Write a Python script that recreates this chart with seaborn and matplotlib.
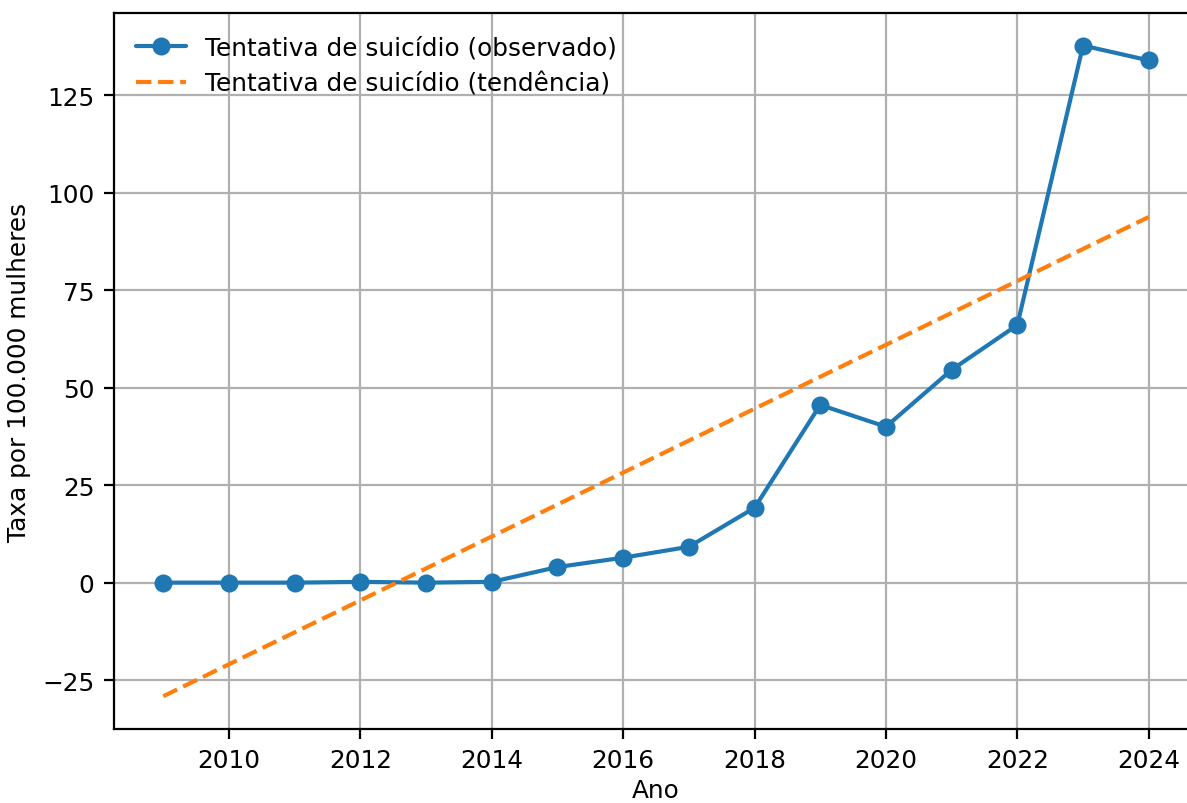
import numpy as np
import pandas as pd
import matplotlib
matplotlib.use("Agg")
import matplotlib.pyplot as plt
import seaborn as sns

anos = [2009, 2010, 2011, 2012, 2013, 2014, 2015, 2016, 2017, 2018, 2019, 2020, 2021, 2022, 2023, 2024]
taxa = [0.0, 0.0, 0.0, 0.2, 0.0, 0.2, 4.0, 6.4, 9.2, 19.2, 45.6, 40.0, 54.6, 66.1, 137.8, 134.0]

sns.set_style("ticks", {"axes.grid": True, "grid.color": "#b0b0b0", "axes.edgecolor": "black",
                        "text.color": "black", "axes.labelcolor": "black",
                        "xtick.color": "black", "ytick.color": "black"})
plt.rcParams["font.family"] = ["DejaVu Sans"]
plt.rcParams["font.size"] = 8.9

coef = np.polyfit(anos, taxa, 1)
tend = list(np.polyval(coef, anos))

df = pd.DataFrame({"Ano": anos, "obs": taxa, "tend": tend})

fig = plt.figure(figsize=(1187 / 200, 804 / 200), dpi=200)
ax = fig.add_axes([114 / 1187, 74 / 804, (1198 - 114) / 1187, 716 / 804])

sns.lineplot(data=df, x="Ano", y="obs", ax=ax, marker="o", color="#1f77b4",
             linewidth=1.5, markersize=6.5, markeredgewidth=0,
             label="Tentativa de suicídio (observado)")
sns.lineplot(data=df, x="Ano", y="tend", ax=ax, color="#ff7f0e", linestyle="--",
             linewidth=1.5, label="Tentativa de suicídio (tendência)")

ax.set_xlim(2008.25, 2024.75)
ax.set_ylim(-37.55, 146.15)
ax.set_xticks([2010, 2012, 2014, 2016, 2018, 2020, 2022, 2024])
ax.set_yticks([-25, 0, 25, 50, 75, 100, 125])
ax.set_xlabel("Ano", fontsize=8.9, color="black", labelpad=2)
ax.set_ylabel("Taxa por 100.000 mulheres", fontsize=8.9, color="black")
ax.tick_params(labelsize=8.9, color="black", labelcolor="black", width=0.8, length=3.5)
ax.grid(True, color="#b0b0b0", linewidth=0.8)
for s in ax.spines.values():
    s.set_linewidth(0.8)
leg = ax.legend(loc="upper left", frameon=False, fontsize=8.9)
for t in leg.get_texts():
    t.set_color("black")

fig.savefig("out.png", dpi=200)
